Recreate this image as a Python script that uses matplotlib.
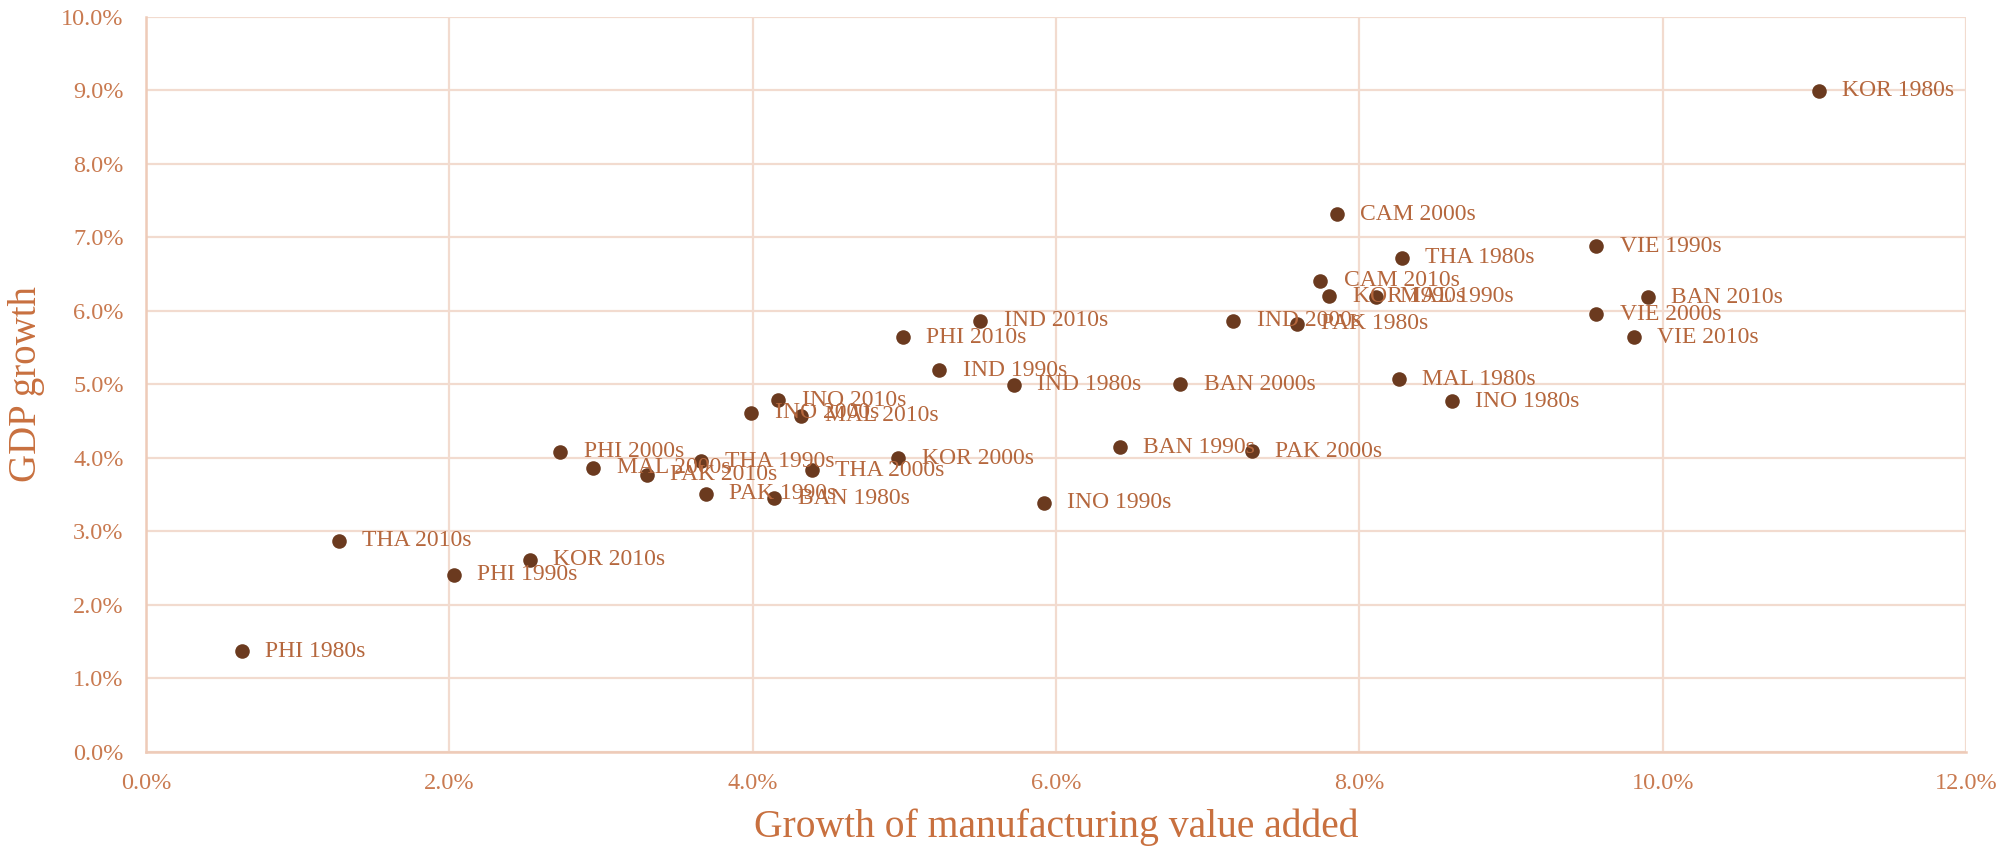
import matplotlib
matplotlib.use("Agg")
import matplotlib.pyplot as plt
from matplotlib.ticker import FuncFormatter, MultipleLocator

labels = ["KOR 1980s", "KOR 1990s", "KOR 2000s", "KOR 2010s",
          "CAM 2000s", "CAM 2010s",
          "THA 1980s", "THA 1990s", "THA 2000s", "THA 2010s",
          "VIE 1990s", "VIE 2000s", "VIE 2010s",
          "MAL 1980s", "MAL 1990s", "MAL 2000s", "MAL 2010s",
          "BAN 1980s", "BAN 1990s", "BAN 2000s", "BAN 2010s",
          "IND 1980s", "IND 1990s", "IND 2000s", "IND 2010s",
          "PAK 1980s", "PAK 1990s", "PAK 2000s", "PAK 2010s",
          "PHI 1980s", "PHI 1990s", "PHI 2000s", "PHI 2010s",
          "INO 1980s", "INO 1990s", "INO 2000s", "INO 2010s"]

manuf_growth = [11.03, 7.80, 4.96, 2.53,
                7.85, 7.74,
                8.28, 3.66, 4.39, 1.27,
                9.56, 9.56, 9.81,
                8.26, 8.11, 2.95, 4.32,
                4.14, 6.42, 6.82, 9.90,
                5.72, 5.23, 7.17, 5.50,
                7.59, 3.69, 7.29, 3.30,
                0.63, 2.03, 2.73, 4.99,
                8.61, 5.92, 3.99, 4.17]

gdp_growth = [8.99, 6.20, 3.99, 2.61,
              7.31, 6.41,
              6.72, 3.95, 3.83, 2.87,
              6.88, 5.95, 5.64,
              5.07, 6.19, 3.86, 4.57,
              3.45, 4.14, 5.00, 6.18,
              4.99, 5.19, 5.86, 5.86,
              5.82, 3.51, 4.09, 3.77,
              1.37, 2.41, 4.08, 5.64,
              4.77, 3.39, 4.61, 4.78]

x_title = "Growth of manufacturing value added"
y_title = "GDP growth"

plt.rcParams['font.family'] = ['Liberation Serif', 'DejaVu Serif']

marker_color = "#6B3A1F"
label_color = "#B5673D"
tick_color = "#C97A50"
title_color = "#C8703F"
grid_color = "#F2DBCF"
spine_color = "#EECBB8"

fig = plt.figure(figsize=(20.10, 8.49), dpi=100)
ax = fig.add_axes([146/2010, 1-751.7/849, (1966-146)/2010, (751.7-16.7)/849])

ax.scatter(manuf_growth, gdp_growth, s=110, color=marker_color, zorder=3, linewidths=0)
for x, y, t in zip(manuf_growth, gdp_growth, labels):
    ax.annotate(t, (x, y), xytext=(17, 0), textcoords='offset points',
                ha='left', va='center', fontsize=17, color=label_color, zorder=4)

ax.set_xlim(0, 12)
ax.set_ylim(0, 10)
ax.xaxis.set_major_locator(MultipleLocator(2))
ax.yaxis.set_major_locator(MultipleLocator(1))
ax.xaxis.set_major_formatter(FuncFormatter(lambda v, p: f"{v:.1f}%"))
ax.yaxis.set_major_formatter(FuncFormatter(lambda v, p: f"{v:.1f}%"))
ax.grid(True, color=grid_color, linewidth=1.6, zorder=0)
ax.set_axisbelow(True)
for s in ['top', 'right']:
    ax.spines[s].set_visible(False)
for s in ['left', 'bottom']:
    ax.spines[s].set_color(spine_color)
    ax.spines[s].set_linewidth(1.8)
ax.tick_params(axis='both', length=0, labelsize=17.5, labelcolor=tick_color)
ax.tick_params(axis='x', pad=15)
ax.tick_params(axis='y', pad=16)

ax.set_xlabel(x_title, fontsize=28.5, color=title_color)
ax.set_ylabel(y_title, fontsize=28, color=title_color)
ax.xaxis.set_label_coords(0.5, -0.077)
ax.yaxis.set_label_coords(-0.0555, 0.5)

fig.savefig("out.png", dpi=100)
